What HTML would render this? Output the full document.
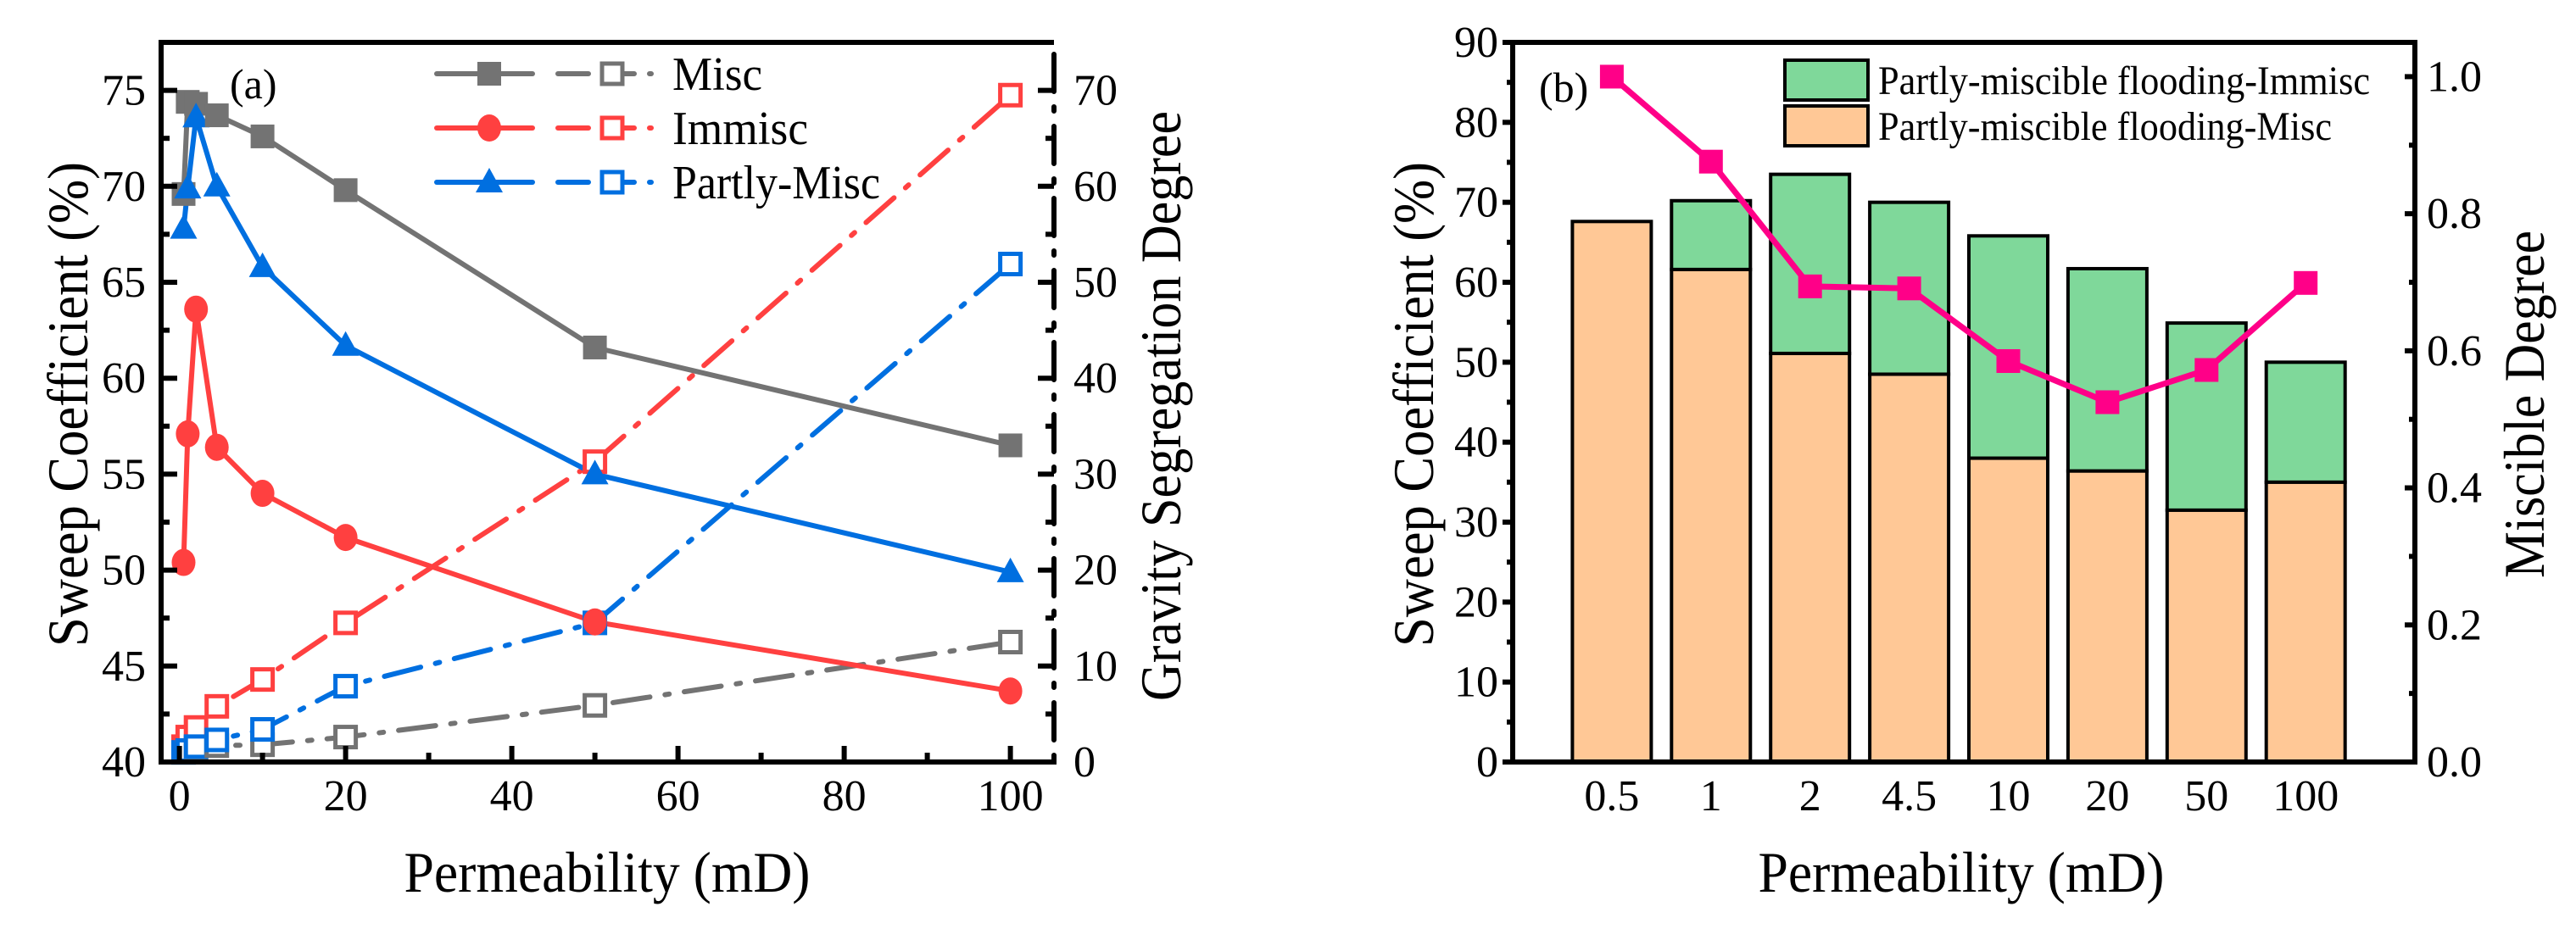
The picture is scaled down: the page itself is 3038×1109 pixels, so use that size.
<!DOCTYPE html>
<html><head><meta charset="utf-8"><style>
html,body{margin:0;padding:0;background:#fff}
svg{display:block}
text{font-family:"Liberation Serif","Times New Roman",serif;fill:#000}
</style></head><body>
<svg id="root" width="3038" height="1109" viewBox="0 0 3038 1109" xmlns="http://www.w3.org/2000/svg">
<g id="chartA"></g>
<g id="chartB"></g>
</svg>
<script>
// ---------- Chart (a) data ----------
const permA = [0.5, 1, 2, 4.5, 10, 20, 50, 100];
const miscSweep = [69.6, 74.4, 74.3, 73.7, 72.6, 69.8, 61.6, 56.5];
const immiscSweep = [50.4, 57.1, 63.6, 56.4, 54.0, 51.7, 47.3, 43.7];
const partlySweep = [67.8, 69.9, 73.6, 70.0, 65.8, 61.7, 55.0, 49.9];
const miscGravity = [1.2, 1.3, 1.5, 1.7, 1.8, 2.6, 5.9, 12.5];
const immiscGravity = [1.6, 2.6, 3.6, 5.8, 8.6, 14.5, 31.3, 69.5];
const partlyGravity = [1.0, 1.2, 1.6, 2.3, 3.4, 7.9, 14.5, 51.9];
const xTicksA = [0, 20, 40, 60, 80, 100];
const yLeftTicksA = [40, 45, 50, 55, 60, 65, 70, 75];
const yRightTicksA = [0, 10, 20, 30, 40, 50, 60, 70];
// ---------- Chart (b) data ----------
const permLabelsB = ["0.5", "1", "2", "4.5", "10", "20", "50", "100"];
const miscPartB = [67.6, 61.6, 51.1, 48.5, 38.0, 36.4, 31.5, 35.0];
const immiscPartB = [0, 8.6, 22.4, 21.5, 27.8, 25.3, 23.4, 15.0];
const miscibleDegree = [1.0, 0.876, 0.694, 0.691, 0.585, 0.525, 0.572, 0.699];
const yLeftTicksB = [0, 10, 20, 30, 40, 50, 60, 70, 80, 90];
const yRightTicksB = [0.0, 0.2, 0.4, 0.6, 0.8, 1.0];

const NS = "http://www.w3.org/2000/svg";
function mk(parent, tag, attrs, txt) {
  const e = document.createElementNS(NS, tag);
  for (const k in attrs) e.setAttribute(k, attrs[k]);
  if (txt !== undefined) e.textContent = txt;
  parent.appendChild(e);
  return e;
}
const TICK = 52, TITLE = 68;

// ================= Chart A =================
(function () {
  const g = document.getElementById("chartA");
  const L = 190, R = 1243, T = 50, B = 899;
  const xS = v => 211.6 + 9.8 * v;
  const yL = v => B - (v - 40) * (B - T) / 37.5;
  const yR = v => B - v * (B - T) / 75;
  const gray = "#737373", red = "#ff4040", blue = "#006fe0";
  const dashDot = "44 18 5 18";

  function series(vals, yf, color, dashed, name) {
    const pts = permA.map((p, i) => xS(p).toFixed(1) + "," + yf(vals[i]).toFixed(1)).join(" ");
    const pl = mk(g, "polyline", { points: pts, fill: "none", stroke: color, "stroke-width": 6, "stroke-linecap": "round", "stroke-linejoin": "round" });
    if (dashed) pl.setAttribute("stroke-dasharray", dashDot);
    
    
  }
  function marker(x, y, shape, color, name) {
    let m;
    if (shape === "sq") m = mk(g, "rect", { x: x - 14, y: y - 14, width: 28, height: 28, fill: color });
    else if (shape === "osq") m = mk(g, "rect", { x: x - 12, y: y - 12, width: 24, height: 24, fill: "#fff", stroke: color, "stroke-width": 5 });
    else if (shape === "circ") m = mk(g, "ellipse", { cx: x, cy: y, rx: 14, ry: 16, fill: color });
    else m = mk(g, "polygon", { points: `${x},${y - 17} ${x - 16},${y + 12} ${x + 16},${y + 12}`, fill: color });
    
    
  }

  series(miscGravity, yR, gray, true, "misc-gravity");
  series(immiscGravity, yR, red, true, "immisc-gravity");
  series(partlyGravity, yR, blue, true, "partly-gravity");
  series(miscSweep, yL, gray, false, "misc-sweep");
  series(immiscSweep, yL, red, false, "immisc-sweep");
  series(partlySweep, yL, blue, false, "partly-sweep");
  permA.forEach((p, i) => {
    marker(xS(p), yR(miscGravity[i]), "osq", gray, "misc-gravity-point");
    marker(xS(p), yR(immiscGravity[i]), "osq", red, "immisc-gravity-point");
    marker(xS(p), yR(partlyGravity[i]), "osq", blue, "partly-gravity-point");
    marker(xS(p), yL(miscSweep[i]), "sq", gray, "misc-sweep-point");
    marker(xS(p), yL(immiscSweep[i]), "circ", red, "immisc-sweep-point");
    marker(xS(p), yL(partlySweep[i]), "tri", blue, "partly-sweep-point");
  });

  const ax = mk(g, "g", {});
  
  
  mk(ax, "line", { x1: L, y1: T, x2: R, y2: T, stroke: "#000", "stroke-width": 6 });
  mk(ax, "line", { x1: L, y1: B, x2: R, y2: B, stroke: "#000", "stroke-width": 6, "stroke-linecap": "square" });
  mk(ax, "line", { x1: L, y1: T, x2: L, y2: B, stroke: "#000", "stroke-width": 6, "stroke-linecap": "square" });
  mk(ax, "line", { x1: R, y1: T + 14, x2: R, y2: B, stroke: "#000", "stroke-width": 6, "stroke-dasharray": "44 18 5 18", "stroke-linecap": "round" });

  xTicksA.forEach(v => {
    mk(ax, "line", { x1: xS(v), y1: B, x2: xS(v), y2: B - 19, stroke: "#000", "stroke-width": 6 });
    const t = mk(ax, "text", { x: xS(v), y: 956, "font-size": TICK, "text-anchor": "middle" }, String(v));
    
    
  });
  for (let v = 10; v <= 100; v += 20) mk(ax, "line", { x1: xS(v), y1: B, x2: xS(v), y2: B - 11, stroke: "#000", "stroke-width": 6 });
  yLeftTicksA.forEach(v => {
    mk(ax, "line", { x1: L, y1: yL(v), x2: L + 19, y2: yL(v), stroke: "#000", "stroke-width": 6 });
    const t = mk(ax, "text", { x: 172, y: yL(v) + 17, "font-size": TICK, "text-anchor": "end" }, String(v));
    
    
  });
  for (let v = 42.5; v < 77.5; v += 5) mk(ax, "line", { x1: L, y1: yL(v), x2: L + 10, y2: yL(v), stroke: "#000", "stroke-width": 6 });
  yRightTicksA.forEach(v => {
    mk(ax, "line", { x1: R, y1: yR(v), x2: R - 19, y2: yR(v), stroke: "#000", "stroke-width": 6 });
    const t = mk(ax, "text", { x: 1266, y: yR(v) + 17, "font-size": TICK, "text-anchor": "start" }, String(v));
    
    
  });
  for (let v = 5; v < 75; v += 10) mk(ax, "line", { x1: R, y1: yR(v), x2: R - 10, y2: yR(v), stroke: "#000", "stroke-width": 6 });

  let t = mk(g, "text", { x: 716, y: 1052, "font-size": TITLE, "text-anchor": "middle", textLength: 479, lengthAdjust: "spacingAndGlyphs" }, "Permeability (mD)");
   
  t = mk(g, "text", { x: 0, y: 0, "font-size": TITLE, "text-anchor": "middle", textLength: 572, lengthAdjust: "spacingAndGlyphs", transform: "translate(103,477) rotate(-90)" }, "Sweep Coefficient (%)");
   
  t = mk(g, "text", { x: 0, y: 0, "font-size": TITLE, "text-anchor": "middle", textLength: 696, lengthAdjust: "spacingAndGlyphs", transform: "translate(1392,479) rotate(-90)" }, "Gravity Segregation Degree");
   
  t = mk(g, "text", { x: 271, y: 116, "font-size": 50 }, "(a)");
   

  const lg = [["Misc", gray, "sq", 106], ["Immisc", red, "circ", 160], ["Partly-Misc", blue, "tri", 245]];
  lg.forEach((d, i) => {
    const y = 87 + i * 64;
    const e = mk(g, "g", {});
    
    
    mk(e, "line", { x1: 515, y1: y, x2: 628, y2: y, stroke: d[1], "stroke-width": 6, "stroke-linecap": "round" });
    mk(e, "line", { x1: 658, y1: y, x2: 768, y2: y, stroke: d[1], "stroke-width": 6, "stroke-dasharray": "36 18", "stroke-linecap": "round" });
    const x1 = 577, x2 = 722;
    if (d[2] === "sq") mk(e, "rect", { x: x1 - 14, y: y - 14, width: 28, height: 28, fill: d[1] });
    else if (d[2] === "circ") mk(e, "ellipse", { cx: x1, cy: y, rx: 14, ry: 16, fill: d[1] });
    else mk(e, "polygon", { points: `${x1},${y - 17} ${x1 - 16},${y + 12} ${x1 + 16},${y + 12}`, fill: d[1] });
    mk(e, "rect", { x: x2 - 12, y: y - 12, width: 24, height: 24, fill: "#fff", stroke: d[1], "stroke-width": 5 });
    mk(e, "text", { x: 793, y: y + 19, "font-size": 56, textLength: d[3], lengthAdjust: "spacingAndGlyphs" }, d[0]);
  });
})();

// ================= Chart B =================
(function () {
  const g = document.getElementById("chartB");
  const L = 1784, R = 2848, T = 50, B = 899;
  const xS = i => L + (i + 1) * 116.9;
  const yL = v => B - v * (B - T) / 90;
  const yR = v => B - v * (B - T) / 1.05;
  const bw = 93;
  const green = "#7fd89a", orange = "#ffc896", pink = "#ff0088";

  permLabelsB.forEach((lab, i) => {
    const x = xS(i);
    const r1 = mk(g, "rect", { x: x - bw / 2, y: yL(miscPartB[i]), width: bw, height: B - yL(miscPartB[i]), fill: orange, stroke: "#000", "stroke-width": 4 });
    
    
    if (immiscPartB[i] > 0) {
      const top = miscPartB[i] + immiscPartB[i];
      const r2 = mk(g, "rect", { x: x - bw / 2, y: yL(top), width: bw, height: yL(miscPartB[i]) - yL(top), fill: green, stroke: "#000", "stroke-width": 4 });
      
      
    }
    const t = mk(g, "text", { x: x, y: 956, "font-size": TICK, "text-anchor": "middle" }, lab);
    
    
  });

  const pts = miscibleDegree.map((v, i) => xS(i).toFixed(1) + "," + yR(v).toFixed(1)).join(" ");
  const pl = mk(g, "polyline", { points: pts, fill: "none", stroke: pink, "stroke-width": 7, "stroke-linejoin": "round" });
  
  
  miscibleDegree.forEach((v, i) => {
    const m = mk(g, "rect", { x: xS(i) - 14, y: yR(v) - 14, width: 28, height: 28, fill: pink });
    
    
  });

  const ax = mk(g, "g", {});
  
  
  mk(ax, "rect", { x: L, y: T, width: R - L, height: B - T, fill: "none", stroke: "#000", "stroke-width": 6 });
  yLeftTicksB.forEach(v => {
    mk(ax, "line", { x1: L, y1: yL(v), x2: L - 12, y2: yL(v), stroke: "#000", "stroke-width": 6 });
    const t = mk(ax, "text", { x: 1767, y: yL(v) + 17, "font-size": TICK, "text-anchor": "end" }, String(v));
    
    
  });
  for (let v = 5; v < 90; v += 10) mk(ax, "line", { x1: L, y1: yL(v), x2: L - 7, y2: yL(v), stroke: "#000", "stroke-width": 6 });
  yRightTicksB.forEach(v => {
    mk(ax, "line", { x1: R, y1: yR(v), x2: R - 12, y2: yR(v), stroke: "#000", "stroke-width": 6 });
    const t = mk(ax, "text", { x: 2862, y: yR(v) + 17, "font-size": TICK, "text-anchor": "start" }, v.toFixed(1));
    
    
  });
  for (let v = 0.1; v < 1.05; v += 0.2) mk(ax, "line", { x1: R, y1: yR(v), x2: R - 7, y2: yR(v), stroke: "#000", "stroke-width": 6 });

  let t = mk(g, "text", { x: 2313, y: 1052, "font-size": TITLE, "text-anchor": "middle", textLength: 479, lengthAdjust: "spacingAndGlyphs" }, "Permeability (mD)");
   
  t = mk(g, "text", { x: 0, y: 0, "font-size": TITLE, "text-anchor": "middle", textLength: 572, lengthAdjust: "spacingAndGlyphs", transform: "translate(1690,477) rotate(-90)" }, "Sweep Coefficient (%)");
   
  t = mk(g, "text", { x: 0, y: 0, "font-size": TITLE, "text-anchor": "middle", textLength: 410, lengthAdjust: "spacingAndGlyphs", transform: "translate(3000,477) rotate(-90)" }, "Miscible Degree");
   
  t = mk(g, "text", { x: 1815, y: 120, "font-size": 50 }, "(b)");
   

  const lg = [["Partly-miscible flooding-Immisc", green, 71, 580], ["Partly-miscible flooding-Misc", orange, 125, 535]];
  lg.forEach(d => {
    const e = mk(g, "g", {});
    
    
    mk(e, "rect", { x: 2105, y: d[2], width: 98, height: 47, fill: d[1], stroke: "#000", "stroke-width": 4 });
    mk(e, "text", { x: 2215, y: d[2] + 40, "font-size": 48, textLength: d[3], lengthAdjust: "spacingAndGlyphs" }, d[0]);
  });
})();
</script>
</body></html>
